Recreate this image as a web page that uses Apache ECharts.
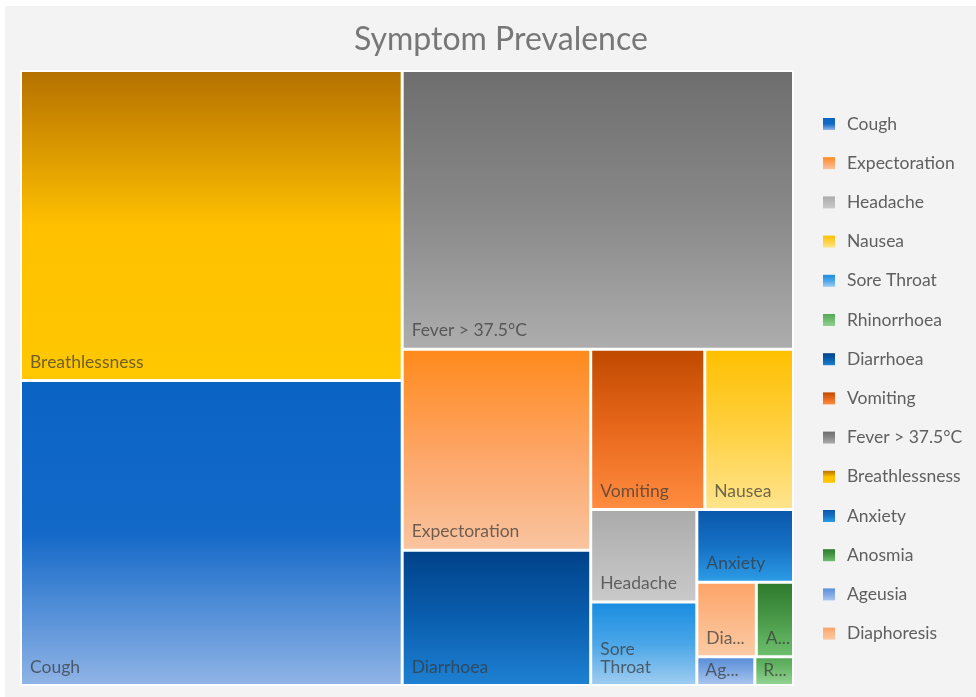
<!DOCTYPE html>
<html>
<head>
<meta charset="utf-8">
<script src="https://cdn.jsdelivr.net/npm/echarts@6/dist/echarts.min.js"></script>
<style>
    body { margin: 0; background: #ffffff; }
    #main { position: absolute; left: 5px; top: 6px; width: 971px; height: 691px; }
</style>
</head>
<body>
<div id="main"></div>
<script>
// symptom names and their share (read from the rectangle areas)
var symptoms = ['Breathlessness', 'Cough', 'Fever > 37.5°C', 'Expectoration', 'Diarrhoea', 'Vomiting', 'Nausea',
    'Headache', 'Sore Throat', 'Anxiety', 'Diaphoresis', 'Anosmia', 'Ageusia', 'Rhinorrhoea'];
var prevalence = [64, 63, 59, 20.5, 13.8, 9.9, 7.7, 5.3, 4.8, 3.8, 2.4, 1.5, 0.9, 0.6];
// legend order as it appears on the right
var legendOrder = ['Cough', 'Expectoration', 'Headache', 'Nausea', 'Sore Throat', 'Rhinorrhoea', 'Diarrhoea',
    'Vomiting', 'Fever > 37.5°C', 'Breathlessness', 'Anxiety', 'Anosmia', 'Ageusia', 'Diaphoresis'];

// top -> bottom gradient colours for every symptom
var fills = {
    'Breathlessness': ['#B57100', '#FFC000', '#FFC800'],
    'Cough': ['#0A64C4', '#1469C8', '#8FB3E6'],
    'Fever > 37.5°C': ['#6E6E6E', '#888888', '#ADADAD'],
    'Expectoration': ['#FF8A1C', '#FDA464', '#F9C4A0'],
    'Diarrhoea': ['#00428A', '#0A5EAE', '#1E80D2'],
    'Vomiting': ['#C04A00', '#E8681C', '#FF8C40'],
    'Nausea': ['#FFC000', '#FFD040', '#FFE48C'],
    'Headache': ['#ABABAB', '#BBBBBB', '#C9C9C9'],
    'Sore Throat': ['#1A8DE0', '#4AA6E8', '#9ECCF0'],
    'Anxiety': ['#0A58AC', '#1570C4', '#2C9BE6'],
    'Diaphoresis': ['#FDA468', '#FCB888', '#FBCAA4'],
    'Anosmia': ['#2E7A2E', '#4A9A4A', '#6CBE6C'],
    'Ageusia': ['#5B8FD9', '#7FA8E3', '#A8C5EE'],
    'Rhinorrhoea': ['#55A855', '#70BC70', '#92D292']
};

function grad(name) {
    var c = fills[name];
    return {
        type: 'linear', x: 0, y: 0, x2: 0, y2: 1,
        colorStops: [{offset: 0, color: c[0]}, {offset: 0.5, color: c[1]}, {offset: 1, color: c[2]}]
    };
}

// labels that the small tiles show
var labelText = {'Sore Throat': 'Sore\nThroat', 'Anosmia': 'A...', 'Ageusia': 'Ag...', 'Rhinorrhoea': 'R...'};
var tinyTiles = ['Ageusia', 'Rhinorrhoea'];

var treeData = symptoms.map(function (s, i) {
    var item = {name: s, value: prevalence[i], itemStyle: {color: grad(s)}};
    if (labelText[s]) {
        item.label = {formatter: labelText[s], lineOverflow: 'none', overflow: 'none'};
    }
    if (tinyTiles.indexOf(s) >= 0) {
        item.label.lineHeight = 14;
        item.label.distance = 2;
    }
    return item;
});

var legendData = legendOrder.map(function (s) {
    return {name: s, value: prevalence[symptoms.indexOf(s)], itemStyle: {color: grad(s)}};
});

var myChart = echarts.init(document.getElementById('main'));

var option = {
    backgroundColor: '#F3F3F3',
    title: {
        text: 'Symptom Prevalence',
        left: 344,
        top: 13,
        textStyle: {
            fontFamily: 'Lato',
            fontSize: 32,
            fontWeight: 'normal',
            color: '#777777'
        }
    },
    legend: {
        orient: 'vertical',
        left: 813,
        top: 103,
        icon: 'rect',
        itemWidth: 12,
        itemHeight: 12,
        itemGap: 19.2,
        selectedMode: false,
        textStyle: {
            fontFamily: 'Lato',
            fontSize: 17.5,
            lineHeight: 20,
            padding: [0, 0, 0, 7],
            color: '#5f5f5f'
        },
        data: legendOrder
    },
    series: [
        {
            type: 'treemap',
            left: 15,
            top: 64,
            width: 774,
            height: 616,
            squareRatio: 1,
            roam: false,
            nodeClick: false,
            breadcrumb: {show: false},
            itemStyle: {
                borderColor: '#ffffff',
                borderWidth: 1,
                gapWidth: 1
            },
            label: {
                show: true,
                position: 'insideBottomLeft',
                distance: 3,
                overflow: 'truncate',
                lineOverflow: 'none',
                ellipsis: '...',
                fontFamily: 'Lato',
                fontSize: 17.5,
                color: 'rgba(55,55,55,0.72)'
            },
            upperLabel: {show: false},
            data: treeData
        },
        {
            // only feeds the legend on the right
            type: 'pie',
            radius: [0, 0],
            center: [-100, -100],
            silent: true,
            label: {show: false},
            labelLine: {show: false},
            data: legendData
        }
    ]
};

myChart.setOption(option);
window.addEventListener('resize', function () { myChart.resize(); });
</script>
</body>
</html>
